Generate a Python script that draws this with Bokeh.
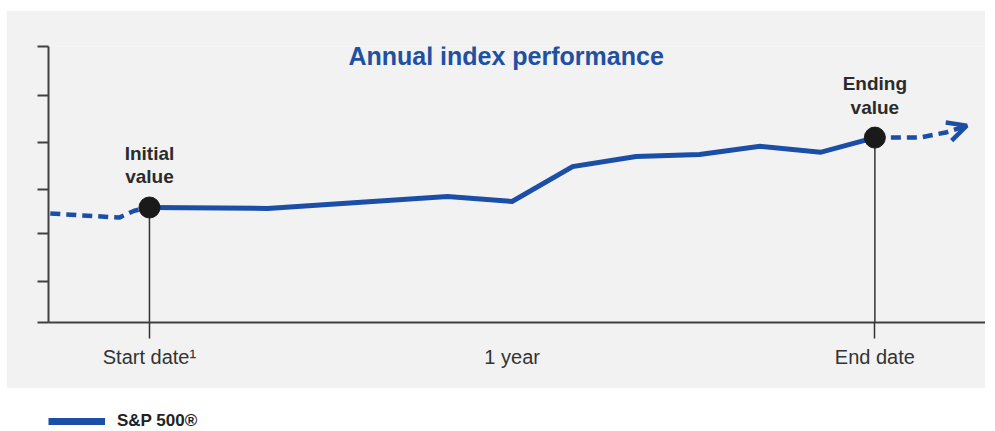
from bokeh.plotting import figure
from bokeh.models import (FixedTicker, Range1d, Label, Arrow, OpenHead, Legend,
                          LegendItem, Spacer)
from bokeh.layouts import column, row
from bokeh.embed import file_html
from bokeh.resources import INLINE
from bokeh.core.properties import value

# ---------------- data ----------------
months = [0, 1.95, 4.93, 6.0, 7.0, 8.05, 9.1, 10.1, 11.1, 12]
index_level = [2.50, 2.48, 2.74, 2.63, 3.39, 3.61, 3.65, 3.83, 3.70, 4.02]
before_months = [-1.64, -0.5, -0.25, 0]
before_level = [2.37, 2.28, 2.43, 2.50]
after_months = [12, 12.74, 13.17, 13.52]
after_level = [4.02, 4.02, 4.13, 4.28]
x_ticks = [0, 6, 12]
x_tick_labels = ["Start date\u00b9", "1 year", "End date"]
y_ticks = [0, 0.89, 1.93, 2.89, 3.91, 4.93, 6.0]
marker_months = [0, 12]
marker_level = [2.50, 4.02]
marker_labels = ["Initial\nvalue", "Ending\nvalue"]
title_text = "Annual index performance"
series_name = "S&P 500\u00ae"

# ---------------- style ----------------
BLUE = "#1b4ea6"
TITLE_BLUE = "#2150a3"
PANEL = "#f2f2f2"
AXIS = "#404040"
TEXT = "#2b2b2b"
FONT = "Liberation Sans"

p = figure(width=979, height=378, title=None,
           x_range=Range1d(-1.67, 13.83), y_range=Range1d(0, 6),
           output_backend="svg", toolbar_location=None,
           min_border_left=42, min_border_right=0,
           min_border_top=36, min_border_bottom=66,
           background_fill_color=PANEL, border_fill_color=PANEL,
           outline_line_color=None)
p.grid.visible = False

xa = p.xaxis[0]
xa.ticker = FixedTicker(ticks=x_ticks, minor_ticks=marker_months)
xa.major_label_overrides = dict(zip(x_ticks, x_tick_labels))
xa.axis_line_color = AXIS
xa.axis_line_width = 2
xa.major_tick_line_color = None
xa.major_tick_out = 0
xa.major_tick_in = 0
xa.minor_tick_line_color = "#333333"
xa.minor_tick_line_width = 1.5
xa.minor_tick_out = 16
xa.minor_tick_in = 0
xa.major_label_standoff = 7
xa.major_label_text_font = FONT
xa.major_label_text_font_size = "20px"
xa.major_label_text_color = "#333333"

ya = p.yaxis[0]
ya.ticker = FixedTicker(ticks=y_ticks)
ya.major_label_overrides = {t: "" for t in y_ticks}
ya.axis_line_color = AXIS
ya.axis_line_width = 2
ya.major_tick_line_color = AXIS
ya.major_tick_line_width = 2
ya.major_tick_out = 11
ya.major_tick_in = 0
ya.minor_tick_line_color = None

# drop lines from the markers to the axis
p.segment(x0=marker_months, y0=[p.y_range.start] * len(marker_months),
          x1=marker_months, y1=marker_level,
          line_color="#333333", line_width=1.5)

# dashed lead-in and lead-out
p.line(before_months, before_level, line_color=BLUE, line_width=4.5,
       line_dash="10 6")
p.line(after_months, after_level, line_color=BLUE, line_width=4.5,
       line_dash="10 6")
p.add_layout(Arrow(end=OpenHead(size=19, line_color=BLUE, line_width=4.5),
                   x_start=after_months[-2], y_start=after_level[-2],
                   x_end=after_months[-1], y_end=after_level[-1],
                   line_alpha=0))

# main series
series = p.line(months, index_level, line_color=BLUE, line_width=5,
                line_join="miter")

# markers
p.scatter(marker_months, marker_level, size=21, fill_color="#1a1a1a",
          line_color="#1a1a1a")

p.text(x=marker_months, y=marker_level, text=marker_labels,
       text_align="center", text_baseline="bottom", y_offset=-20,
       text_font=value(FONT), text_font_style="bold",
       text_font_size="19px", text_color=TEXT, text_line_height=1.1)

p.add_layout(Label(x=5.9, y=5.8, text=title_text, text_align="center",
                   text_baseline="middle", text_font=FONT,
                   text_font_style="bold", text_font_size="25px",
                   text_color=TITLE_BLUE))

# ---------------- legend strip ----------------
lg = figure(width=995, height=43, title=None,
            x_range=Range1d(0, 1), y_range=Range1d(0, 1),
            output_backend="svg", toolbar_location=None,
            x_axis_location=None, y_axis_location=None,
            min_border=0, outline_line_color=None,
            background_fill_color="white", border_fill_color="white")
lg.grid.visible = False
nan = float("nan")
proxy = lg.line(x=[nan, nan], y=[nan, nan], line_color=BLUE, line_width=7)
legend = Legend(items=[LegendItem(label=series_name, renderers=[proxy])],
                location=(48, 0), padding=0, margin=0, spacing=0,
                border_line_color=None, background_fill_alpha=0,
                glyph_width=57, glyph_height=14, label_standoff=12,
                label_height=20,
                label_text_font=FONT, label_text_font_style="bold",
                label_text_font_size="17px", label_text_color="#222222")
lg.add_layout(legend, "center")

layout = column(Spacer(width=995, height=10),
                row(Spacer(width=6, height=378), p, spacing=0),
                lg, spacing=0)
open("out.html", "w").write(file_html(layout, INLINE))
